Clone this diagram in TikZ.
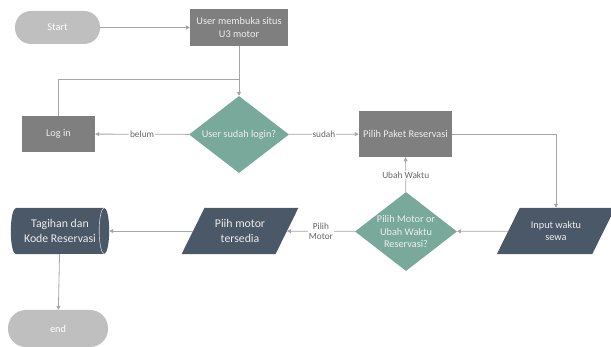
\documentclass[tikz,border=0pt]{standalone}
\usepackage{fontspec}
\setmainfont{Carlito}
\usetikzlibrary{shapes.geometric,arrows.meta,backgrounds,calc}
\definecolor{slate}{HTML}{4B5867}
\definecolor{teal2}{HTML}{79A99B}
\definecolor{boxgrey}{HTML}{7F7F7F}
\definecolor{pill}{HTML}{BFBFBF}
\definecolor{linegrey}{HTML}{A6A6A6}
\definecolor{lblgrey}{HTML}{666666}
\begin{document}
\begin{tikzpicture}[x=1pt,y=-1pt,
  every node/.style={font=\fontsize{10.3}{12.5}\selectfont, align=center, inner sep=0pt},
  bigtext/.style={font=\fontsize{11.8}{15}\selectfont},
  pillbox/.style={rectangle, rounded corners=16pt, fill=pill, text=white},
  procbox/.style={rectangle, fill=boxgrey, text=white!93!black},
  decide/.style={diamond, fill=teal2, text=white!93!black},
  parabox/.style={rectangle, text=white!93!black, minimum height=46pt},
  conn/.style={draw=linegrey, line width=0.8pt},
  arr/.style={conn, -{Triangle[length=4pt,width=4pt]}},
  lbl/.style={fill=white, text=lblgrey, font=\fontsize{9.3}{10.5}\selectfont, inner sep=1pt}
]
\useasboundingbox (0,0) rectangle (611,347);
\clip (0,0) rectangle (611,347);

\node[pillbox, minimum width=85pt, minimum height=33pt] (start) at (57.5,27.5) {Start};
\node[procbox, minimum width=98pt, minimum height=37pt] (open) at (239,27.5) {User membuka situs\\U3 motor};
\node[decide, minimum width=100pt, minimum height=77pt, label={[text=white!93!black]center:User sudah login?}] (q1) at (239,134.5) {};
\node[procbox, minimum width=73pt, minimum height=36pt] (login) at (58.5,134) {Log in};
\node[procbox, minimum width=93pt, minimum height=46pt] (paket) at (405.5,134) {Pilih Paket Reservasi};
\node[parabox, minimum width=95pt] (input) at (556,231) {Input waktu\\sewa};
\node[decide, minimum width=102pt, minimum height=79pt, label={[text=white!93!black]center:Pilih Motor or\\Ubah Waktu\\Reservasi?}] (q2) at (406,231.5) {};
\node[parabox, bigtext, minimum width=93.5pt] (piih) at (240,231) {Piih motor\\tersedia};
\node[bigtext, minimum width=98pt, minimum height=46pt, text=white!93!black] (tag) at (60,231) {Tagihan dan\\Kode Reservasi};
\node[pillbox, rounded corners=18pt, minimum width=100pt, minimum height=37pt] (end) at (58,328.5) {end};

\begin{pgfonlayer}{background}
\foreach \p in {input,piih}{
  \fill[slate] ($(\p.north west)+(11.5,0)$) -- ($(\p.north east)+(11.5,0)$)
    -- ($(\p.south east)+(-11.5,0)$) -- ($(\p.south west)+(-11.5,0)$) -- cycle;
}
\fill[slate] ($(tag.north west)+(5,0)$) -- ($(tag.north east)+(-5,0)$)
  arc[start angle=90, end angle=-90, x radius=5pt, y radius=23pt]
  -- ($(tag.south west)+(5,0)$)
  arc[start angle=270, end angle=90, x radius=5pt, y radius=23pt] -- cycle;
\draw[white!70!slate, line width=0.6pt] ($(tag.north east)+(-5,0)$)
  arc[start angle=90, end angle=270, x radius=5pt, y radius=23pt];
\end{pgfonlayer}

\coordinate (join) at (239,79);
\draw[arr] (start) -- (open);
\draw[arr] (open) -- (q1);
\draw[conn] (login.north) |- (join);
\draw[arr] (q1) -- node[lbl]{belum} (login);
\draw[arr] (q1) -- node[lbl]{sudah} (paket);
\draw[arr] (paket.east) -| (input.north);
\draw[arr] (input) -- (q2);
\draw[arr] (q2) -- node[lbl, pos=0.49]{Ubah Waktu} (paket);
\draw[arr] (q2) -- node[lbl]{Pilih\\Motor} (piih);
\draw[arr] (piih) -- (tag.east);
\draw[arr] (tag) -- (end);
\end{tikzpicture}
\end{document}
